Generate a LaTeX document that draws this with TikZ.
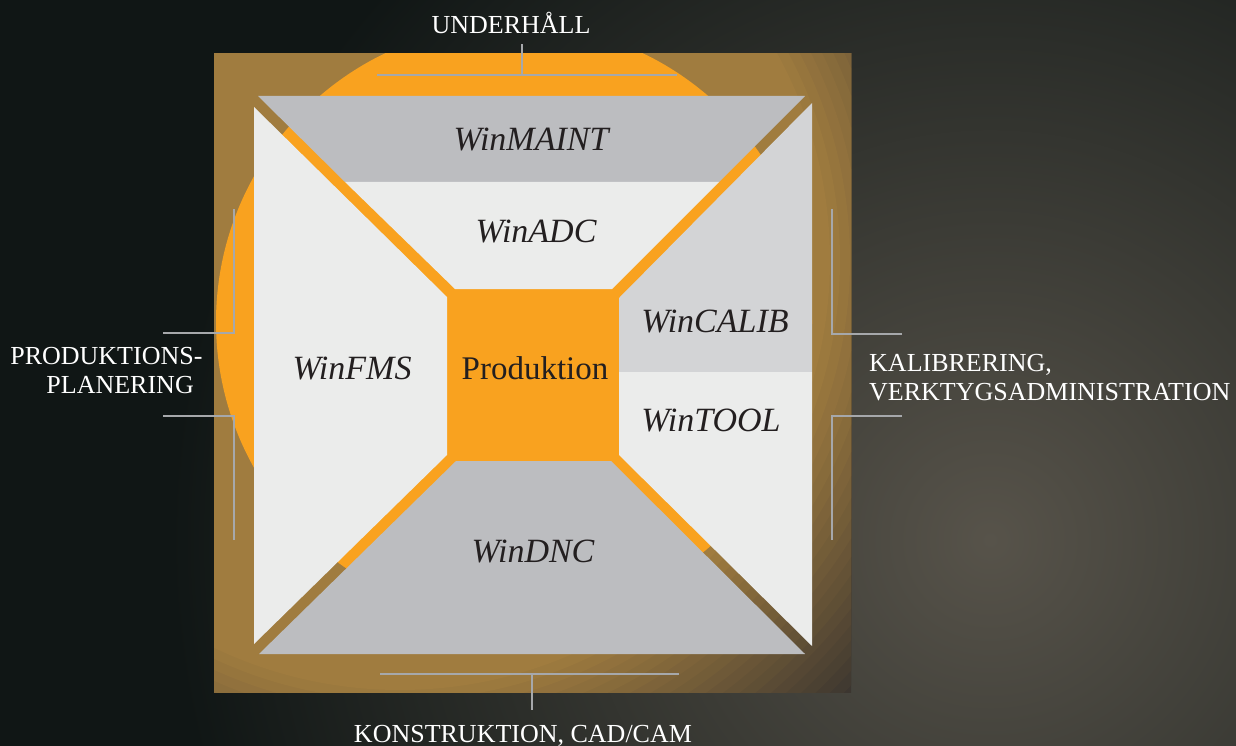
\documentclass[tikz,border=0pt]{standalone}
\usepackage{fontspec}
\setmainfont{Liberation Serif}
\usepackage{xcolor}

\definecolor{bgdark}{HTML}{101615}
\definecolor{woodglow}{HTML}{57534A}
\definecolor{frameinner}{HTML}{A07C3F}
\definecolor{frameouter}{HTML}{3C3630}
\definecolor{winorange}{HTML}{F9A21F}
\definecolor{panelgray}{HTML}{BCBDC0}
\definecolor{panelmid}{HTML}{D3D4D6}
\definecolor{panellight}{HTML}{EBECEB}
\definecolor{bracketgray}{HTML}{A6A8AB}
\definecolor{moduletext}{HTML}{231F20}

\begin{document}
\begin{tikzpicture}[x=1pt,y=-1pt,
  module/.style={font=\fontsize{34}{36}\selectfont\itshape, text=moduletext, inner sep=0pt, anchor=base},
  area/.style={font=\fontsize{26}{29}\selectfont, text=white, inner sep=0pt},
  bracket/.style={bracketgray, line width=2.2pt}]

\useasboundingbox (0,0) rectangle (1236,746);

% Draw the background
\fill[bgdark] (0,0) rectangle (1236,746);
\begin{scope}
  \clip (0,0) rectangle (1236,746);
  \shade[inner color=woodglow, outer color=bgdark] (990,540) circle (820pt);
\end{scope}

% Draw the frame (darker towards the lower right) and the orange disc
\begin{scope}
  \clip (214,54) rectangle (851,692);
  \fill[frameouter] (214,54) rectangle (851,692);
  \foreach \k in {0,...,20} {
    \pgfmathsetmacro\rad{630-\k*10}
    \pgfmathsetmacro\mix{100-\k*5}
    \fill[frameouter!\mix!frameinner] (400,260) circle (\rad pt);
  }
  \fill[winorange] (514,322) circle (298pt);
\end{scope}

% Draw the panels
\fill[panelgray]  (258,96) -- (805,96) -- (719,182) -- (345,182) -- cycle;
\fill[panellight] (345,182) -- (719,182) -- (612,289) -- (455,289) -- cycle;
\fill[panellight] (254,107) -- (447,297) -- (447,455) -- (254,644) -- cycle;
\fill[panelmid]   (812,103) -- (619,298) -- (619,372) -- (812,372) -- cycle;
\fill[panellight] (619,372) -- (619,455) -- (812,646) -- (812,372) -- cycle;
\fill[panelgray]  (456,461) -- (611,461) -- (805,654) -- (259,654) -- cycle;

% Module names
\node[module] (maint) at (531,151) {WinMAINT};
\node[module] (adc)   at (536,242) {WinADC};
\node[module] (fms)   at (352,379) {WinFMS};
\node[module, font=\fontsize{33}{35}\selectfont] (prod) at (535,379) {Produktion};
\node[module] (calib) at (715,332) {WinCALIB};
\node[module] (tool)  at (711,431) {WinTOOL};
\node[module] (dnc)   at (533,562) {WinDNC};

% Area labels
\node[area, anchor=base] (underhall) at (511,34) {UNDERHÅLL};
\node[area, anchor=base] (konstr) at (523,742) {KONSTRUKTION, CAD/CAM};
\node[area, align=right, anchor=north east] (planering) at (194,347) {PRODUKTIONS\rlap{-}\\PLANERING};
\node[area, align=left, anchor=north west] (kalib) at (869,354) {KALIBRERING,\\VERKTYGSADMINISTRATION};

% Brackets
\coordinate (topL) at (377,75);
\coordinate (topR) at (677,75);
\coordinate (topM) at (522,75);
\coordinate (topT) at (522,44);
\draw[bracket] (topL) -- (topR);
\draw[bracket] (topM) -- (topT);

\coordinate (botL) at (380,674);
\coordinate (botR) at (679,674);
\coordinate (botM) at (532,674);
\coordinate (botB) at (532,710);
\draw[bracket] (botL) -- (botR);
\draw[bracket] (botM) -- (botB);

\coordinate (lftA) at (163,333);
\coordinate (lftB) at (234,333);
\coordinate (lftC) at (234,209);
\coordinate (lftD) at (163,416);
\coordinate (lftE) at (234,416);
\coordinate (lftF) at (234,540);
\draw[bracket] (lftA) -- (lftB) -- (lftC);
\draw[bracket] (lftD) -- (lftE) -- (lftF);

\coordinate (rgtA) at (902,334);
\coordinate (rgtB) at (832,334);
\coordinate (rgtC) at (832,209);
\coordinate (rgtD) at (902,416);
\coordinate (rgtE) at (832,416);
\coordinate (rgtF) at (832,540);
\draw[bracket] (rgtA) -- (rgtB) -- (rgtC);
\draw[bracket] (rgtD) -- (rgtE) -- (rgtF);

\end{tikzpicture}
\end{document}
